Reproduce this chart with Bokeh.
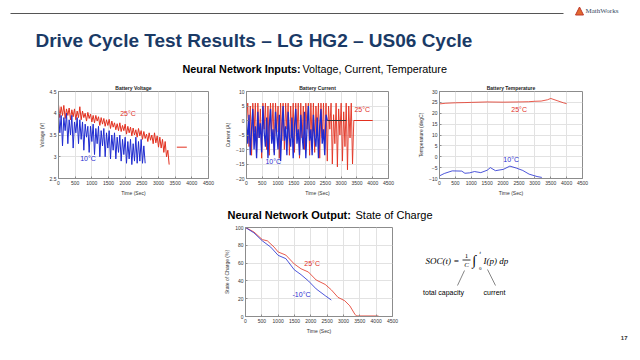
from bokeh.plotting import figure
from bokeh.models import Range1d, Label, FixedTicker, Spacer, Title
from bokeh.layouts import column, row
from bokeh.embed import file_html
from bokeh.resources import INLINE

# ---------------- data ----------------
volt_cold_t = [0, 40, 80, 120, 160, 200, 240, 280, 320, 360,
               400, 440, 480, 520, 560, 600, 640, 680, 720, 760,
               800, 840, 880, 920, 960, 1000, 1040, 1080, 1120, 1160,
               1200, 1240, 1280, 1320, 1360, 1400, 1440, 1480, 1520, 1560,
               1600, 1640, 1680, 1720, 1760, 1800, 1840, 1880, 1920, 1960,
               2000, 2040, 2080, 2120, 2160, 2200, 2240, 2280, 2320, 2360,
               2400, 2440, 2480, 2520, 2560, 2600]
volt_cold = [4.05, 3.55, 3.95, 3.25, 3.90, 3.60, 4.00, 3.30, 3.85, 3.50,
             3.95, 3.20, 3.80, 3.55, 3.90, 3.30, 3.85, 3.40, 3.80, 3.15,
             3.75, 3.45, 3.70, 3.10, 3.70, 3.35, 3.75, 3.05, 3.65, 3.30,
             3.70, 3.00, 3.60, 3.25, 3.65, 3.00, 3.55, 3.20, 3.60, 2.95,
             3.50, 3.15, 3.55, 2.95, 3.45, 3.10, 3.50, 2.90, 3.40, 3.05,
             3.45, 2.85, 3.35, 2.95, 3.40, 2.82, 3.30, 2.90, 3.45, 2.85,
             3.35, 2.90, 3.40, 2.85, 3.25, 2.85]

volt_warm_t = [0, 40, 80, 120, 160, 200, 240, 280, 320, 360,
               400, 440, 480, 520, 560, 600, 640, 680, 720, 760,
               800, 840, 880, 920, 960, 1000, 1040, 1080, 1120, 1160,
               1200, 1240, 1280, 1320, 1360, 1400, 1440, 1480, 1520, 1560,
               1600, 1640, 1680, 1720, 1760, 1800, 1840, 1880, 1920, 1960,
               2000, 2040, 2080, 2120, 2160, 2200, 2240, 2280, 2320, 2360,
               2400, 2440, 2480, 2520, 2560, 2600, 2640, 2680, 2720, 2760,
               2800, 2840, 2880, 2920, 2960, 3000, 3040, 3080, 3120, 3160,
               3200, 3240, 3280, 3320]
volt_warm = [4.20, 3.90, 4.15, 3.95, 4.18, 3.88, 4.10, 3.95, 4.12, 3.85,
             4.08, 3.92, 4.10, 3.85, 4.05, 3.90, 4.15, 3.85, 4.05, 3.90,
             4.00, 3.82, 4.02, 3.88, 3.98, 3.80, 3.95, 3.78, 3.95, 3.82,
             3.92, 3.72, 3.90, 3.75, 3.88, 3.70, 3.85, 3.72, 3.86, 3.65,
             3.82, 3.68, 3.78, 3.62, 3.76, 3.60, 3.78, 3.58, 3.72, 3.60,
             3.75, 3.52, 3.70, 3.55, 3.68, 3.48, 3.66, 3.50, 3.62, 3.45,
             3.65, 3.48, 3.60, 3.40, 3.58, 3.42, 3.52, 3.35, 3.55, 3.38,
             3.50, 3.30, 3.55, 3.32, 3.48, 3.22, 3.45, 3.20, 3.40, 3.10,
             3.35, 3.00, 3.15, 2.82]
volt_warm_rest_t = [3550, 3850]
volt_warm_rest = [3.22, 3.22]

curr_cold_t = [0, 40, 80, 120, 160, 200, 240, 280, 320, 360,
               400, 440, 480, 520, 560, 600, 640, 680, 720, 760,
               800, 840, 880, 920, 960, 1000, 1040, 1080, 1120, 1160,
               1200, 1240, 1280, 1320, 1360, 1400, 1440, 1480, 1520, 1560,
               1600, 1640, 1680, 1720, 1760, 1800, 1840, 1880, 1920, 1960,
               2000, 2040, 2080, 2120, 2160, 2200, 2240, 2280, 2320, 2360,
               2400, 2440, 2480, 2520, 2560]
curr_cold = [0, -8, 2, -12, -3, 4, -10, -2, -13, 3,
             -6, -1, -11, 5, -4, -9, 1, -13, -2, 4,
             -8, -3, -12, 3, -5, -10, 2, -14, -3, 5,
             -7, -2, -12, 3, -6, -9, 1, -13, -2, 4,
             -8, -3, -12, 2, -5, -10, 3, -13, -2, 5,
             -7, -3, -12, 2, -6, -9, 1, -13, -2, 4,
             -8, -3, -12, 2, 0]
curr_cold_rest_t = [2560, 3160]
curr_cold_rest = [0, 0]

curr_warm_t = [0, 40, 80, 120, 160, 200, 240, 280, 320, 360,
               400, 440, 480, 520, 560, 600, 640, 680, 720, 760,
               800, 840, 880, 920, 960, 1000, 1040, 1080, 1120, 1160,
               1200, 1240, 1280, 1320, 1360, 1400, 1440, 1480, 1520, 1560,
               1600, 1640, 1680, 1720, 1760, 1800, 1840, 1880, 1920, 1960,
               2000, 2040, 2080, 2120, 2160, 2200, 2240, 2280, 2320, 2360,
               2400, 2440, 2480, 2520, 2560, 2600, 2640, 2680, 2720, 2760,
               2800, 2840, 2880, 2920, 2960, 3000, 3040, 3080, 3120, 3160,
               3200, 3240, 3280, 3320, 3360, 3400]
curr_warm = [0, 6, -9, 5, -12, 6, -4, 6, -11, 6,
             -6, 4, -13, 6, -3, 6, -10, 5, -12, 6,
             -5, 6, -11, 6, -4, 5, -13, 6, -7, 6,
             -10, 6, -3, 6, -12, 5, -6, 6, -11, 6,
             -4, 6, -13, 6, -6, 5, -10, 6, -3, 6,
             -12, 6, -7, 6, -11, 5, -4, 6, -13, 6,
             -6, 6, -10, 6, -14, 5, -3, 6, -15, 2,
             -8, 6, -16, 4, -5, 6, -14, 3, -9, 6,
             -17, 5, -6, 6, -15, 0]
curr_warm_rest_t = [3400, 4000]
curr_warm_rest = [0, 0]

temp_warm_t = [0, 200, 500, 800, 1000, 1500, 2000, 2500, 2800, 3000, 3200, 3400, 3500, 3700, 3900, 4000]
temp_warm = [24.3, 24.6, 24.8, 24.9, 25.0, 25.2, 25.1, 25.2, 25.3, 25.5, 25.6, 26.2, 26.8, 25.8, 24.8, 24.4]
temp_cold_t = [0, 150, 400, 700, 800, 950, 1100, 1300, 1500, 1600, 1760, 2010, 2215, 2415, 2620, 2820, 3070, 3220]
temp_cold = [-8.8, -7.7, -6.5, -6.6, -7.6, -7.4, -6.8, -7.3, -6.2, -5.0, -6.4, -5.8, -4.3, -5.2, -6.3, -8.0, -9.1, -9.5]

soc_warm_t = [0, 257, 515, 670, 875, 1000, 1235, 1493, 1700, 1925, 2163, 2440, 2626, 2832, 3038, 3193, 3347, 3400, 4070]
soc_warm = [100, 95, 86.4, 85, 78, 72.5, 69, 59, 53.6, 50, 41, 36, 30, 21.5, 17.7, 12, 2.6, 0.6, 0.6]
soc_cold_t = [0, 257, 515, 772, 1000, 1235, 1493, 1700, 1925, 2163, 2440, 2626]
soc_cold = [100, 94, 85, 78, 68.7, 65, 52.5, 47, 40, 31, 23.4, 18.5]

time_ticks = [0, 500, 1000, 1500, 2000, 2500, 3000, 3500, 4000, 4500]
volt_ticks = [2.5, 3, 3.5, 4, 4.5]
volt_tick_labels = {2.5: "2.5", 3: "3", 3.5: "3.5", 4: "4", 4.5: "4.5"}
curr_ticks = [-20, -15, -10, -5, 0, 5, 10]
temp_ticks = [-10, -5, 0, 5, 10, 15, 20, 25, 30]
soc_ticks = [0, 20, 40, 60, 80, 100]

RED = "#e2301f"
BLUE = "#1f2bd0"
FONT = "Liberation Sans"
SERIF = "Liberation Serif"


def canvas(w, h, x0, x1, y0, y1, bt=0, bb=0):
    p = figure(width=w, height=h, x_range=Range1d(x0, x1), y_range=Range1d(y1, y0),
               min_border_left=0, min_border_right=0, min_border_top=bt,
               min_border_bottom=bb, x_axis_type=None, y_axis_type=None,
               toolbar_location=None, output_backend="svg")
    p.outline_line_color = None
    return p


def lab(p, x, y, text, size, color="#000000", style="normal", font=FONT, align="left"):
    p.add_layout(Label(x=x, y=y, text=text, text_font_size=f"{size}px", text_color=color,
                       text_font_style=style, text_font=font, text_align=align,
                       text_baseline="middle"))


def small_plot(w, h, bl, br, bt, bb, xr, yr, title, yticks, ylabel):
    kw = {}
    if title:
        kw["title"] = title
    p = figure(width=w, height=h, x_range=Range1d(*xr), y_range=Range1d(*yr),
               min_border_left=bl, min_border_right=br, min_border_top=bt,
               min_border_bottom=bb, toolbar_location=None, output_backend="svg", **kw)
    if title:
        p.title.text_font_size = "5px"
        p.title.text_font = FONT
        p.title.text_font_style = "bold"
        p.title.align = "center"
        p.title.standoff = 1
        p.title.offset = 0
        p.title.text_color = "#222222"
    p.xaxis.ticker = FixedTicker(ticks=time_ticks)
    p.yaxis.ticker = FixedTicker(ticks=yticks)
    p.xaxis.axis_label = "Time (Sec)"
    p.yaxis.axis_label = ylabel
    for ax in (p.xaxis[0], p.yaxis[0]):
        ax.major_label_text_font_size = "5px"
        ax.major_label_text_font = FONT
        ax.major_label_text_color = "#333333"
        ax.axis_label_text_font_size = "5px"
        ax.axis_label_text_font = FONT
        ax.axis_label_text_font_style = "normal"
        ax.axis_label_text_color = "#333333"
        ax.axis_label_standoff = 2
        ax.major_label_standoff = 2
        ax.major_tick_in = 2
        ax.major_tick_out = 0
        ax.minor_tick_in = 0
        ax.minor_tick_out = 0
        ax.axis_line_color = "#8c8c8c"
        ax.major_tick_line_color = "#8c8c8c"
    p.grid.grid_line_color = "#e2e2e2"
    p.outline_line_color = "#8c8c8c"
    return p


def temp_label(p, x, y, text, color):
    p.add_layout(Label(x=x, y=y, text=text, text_font_size="7px", text_color=color,
                       text_font=FONT, text_baseline="middle"))


# ---------------- header (page y 0..82) ----------------
header = canvas(640, 82, 0, 640, 0, 82)
header.line(x=[10, 563], y=[13, 13], line_color="#555555", line_width=1)
header.patch(x=[575, 579, 583], y=[14.5, 6.5, 14.5], fill_color="#e2692f", line_color="#c0392b")
lab(header, 585, 10.5, "MathWorks", 7, color="#34495e", font=SERIF)
lab(header, 35, 39.5, "Drive Cycle Test Results \u2013 LG HG2 \u2013 US06 Cycle", 19,
    color="#1a3a66", style="bold")
lab(header, 182, 68, "Neural Network Inputs:", 10.8, style="bold")
lab(header, 302, 68, "Voltage, Current, Temperature", 10.8)

# ---------------- voltage (page y 82..200) ----------------
p1 = small_plot(222, 118, 58, 14, 7, 22, (0, 4500), (2.5, 4.5), "Battery Voltage",
                volt_ticks, "Voltage (V)")
p1.yaxis.major_label_overrides = volt_tick_labels
p1.line(volt_warm_t, volt_warm, line_color=RED, line_width=1)
p1.line(volt_warm_rest_t, volt_warm_rest, line_color=RED, line_width=1)
p1.line(volt_cold_t, volt_cold, line_color=BLUE, line_width=1)
temp_label(p1, 1850, 4.0, "25\u00b0C", RED)
temp_label(p1, 650, 2.97, "10\u00b0C", BLUE)

# ---------------- current ----------------
p2 = small_plot(193, 118, 20, 27, 7, 22, (0, 4500), (-20, 10), "Battery Current",
                curr_ticks, "Current (A)")
p2.line(curr_warm_t, curr_warm, line_color=RED, line_width=0.9)
p2.line(curr_warm_rest_t, curr_warm_rest, line_color=RED, line_width=1)
p2.line(curr_cold_t, curr_cold, line_color=BLUE, line_width=1.3)
p2.line(curr_cold_rest_t, curr_cold_rest, line_color="#333333", line_width=1)
temp_label(p2, 3420, 3.7, "25\u00b0C", RED)
temp_label(p2, 600, -14.3, "10\u00b0C", BLUE)

# ---------------- temperature ----------------
p3 = small_plot(225, 118, 18, 58, 7, 22, (0, 4500), (-10, 30), "Battery Temperature",
                temp_ticks, "Temperature (degC)")
p3.line(temp_warm_t, temp_warm, line_color=RED, line_width=0.8)
p3.line(temp_cold_t, temp_cold, line_color=BLUE, line_width=0.8)
temp_label(p3, 2260, 21.7, "25\u00b0C", RED)
temp_label(p3, 2010, -1.3, "10\u00b0C", BLUE)

# ---------------- output subtitle (page y 200..222) ----------------
sub = canvas(640, 22, 0, 640, 200, 222)
lab(sub, 227, 214, "Neural Network Output:", 11, style="bold")
lab(sub, 355, 214, "State of Charge", 11)

# ---------------- SOC (page y 222..360) ----------------
p4 = small_plot(202, 138, 27, 28, 5, 44, (0, 4500), (0, 100), None,
                soc_ticks, "State of Charge (%)")
p4.line(soc_warm_t, soc_warm, line_color=RED, line_width=0.8)
p4.line(soc_cold_t, soc_cold, line_color=BLUE, line_width=0.8)
temp_label(p4, 1800, 60, "25\u00b0C", RED)
temp_label(p4, 1440, 24.5, "-10\u00b0C", BLUE)

# ---------------- formula: frame aligned with SOC frame (page y 227..316) ----------------
fm = canvas(220, 138, 420, 640, 227, 316, bt=5, bb=44)
lab(fm, 425, 260, "SOC(t) =", 9, style="italic", font=SERIF)
lab(fm, 466, 255, "1", 7, font=SERIF, align="center")
fm.line(x=[462, 470], y=[259.5, 259.5], line_color="#000000", line_width=0.8)
lab(fm, 466, 264.5, "C", 7, style="italic", font=SERIF, align="center")
lab(fm, 472, 260, "\u222b", 14, font=SERIF)
lab(fm, 479, 252, "t", 5, style="italic", font=SERIF)
lab(fm, 478.5, 268, "0", 5, font=SERIF)
lab(fm, 483, 260, "I(p) dp", 9, style="italic", font=SERIF)
fm.segment(x0=[464, 487], y0=[270, 269], x1=[457, 495], y1=[285, 285],
           line_color="#666666", line_width=0.8)
lab(fm, 443, 292, "total capacity", 7, align="center")
lab(fm, 494, 292, "current", 7, align="center")
fm.add_layout(Title(text="17", align="right", text_font_size="6px", text_font=FONT,
                    text_font_style="bold", text_color="#333333", standoff=35,
                    offset=13), "below")

layout = column(header, row(p1, p2, p3), sub,
                row(Spacer(width=218, height=138), p4, fm))

open("out.html", "w").write(file_html(layout, INLINE))
